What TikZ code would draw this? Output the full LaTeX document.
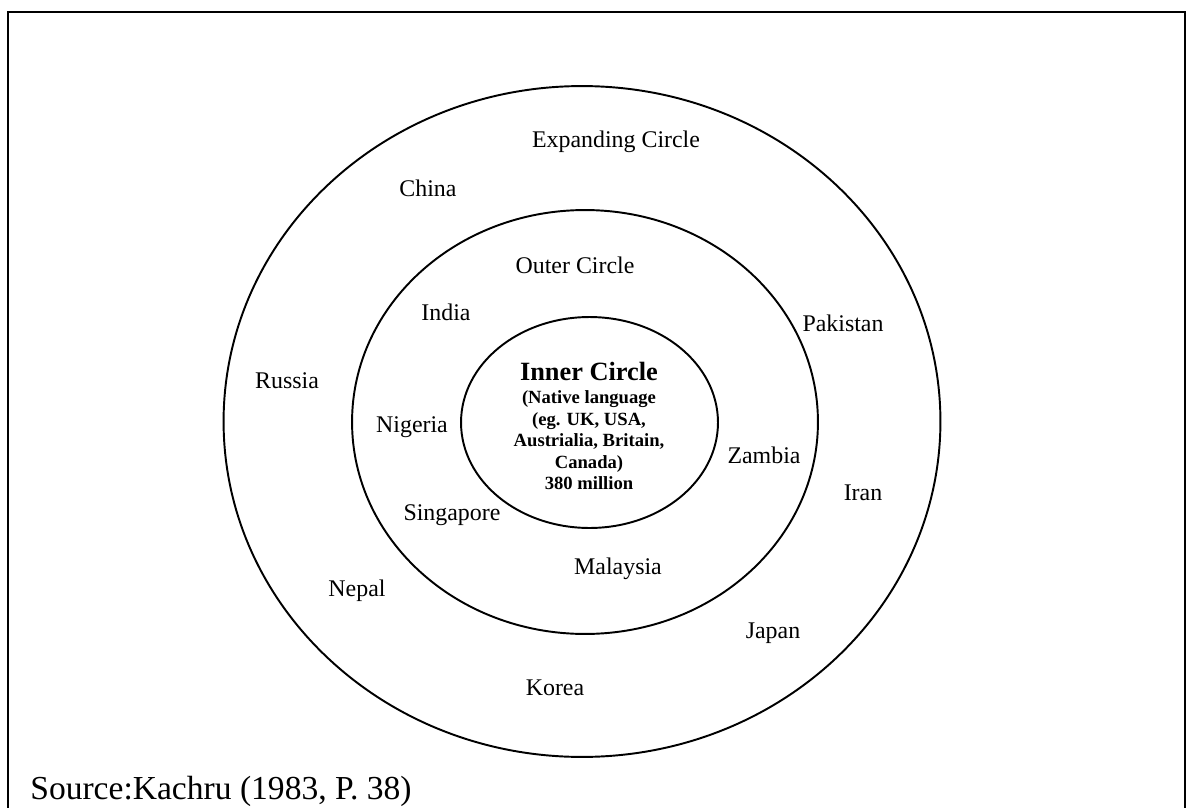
\documentclass[tikz,border=0pt]{standalone}
\usepackage{fontspec}
\setmainfont{Liberation Serif}

\begin{document}
\begin{tikzpicture}[
  x=0.02cm, y=-0.02cm,
  ring/.style={draw, line width=1.1pt},
  country/.style={inner sep=0pt, font=\fontsize{13.6}{16}\selectfont\strut},
  core/.style={inner sep=0pt, align=center, font=\bfseries\fontsize{10.6}{12.2}\selectfont},
  source/.style={inner sep=0pt, anchor=base west, font=\fontsize{19.1}{22}\selectfont}
]
\useasboundingbox (0,0) rectangle (1187,808);
\clip (0,0) rectangle (1187,808);
% frame
\draw[line width=1.1pt] (8,830) -- (8,12) -- (1185,12) -- (1185,830);
% circles
\coordinate (cexp) at (582,421.5);
\coordinate (cout) at (585,422);
\coordinate (cinn) at (589.5,422.5);
\path[ring] (cexp) ellipse [x radius=7.17cm, y radius=6.71cm];
\path[ring] (cout) ellipse [x radius=4.66cm, y radius=4.24cm];
\path[ring] (cinn) ellipse [x radius=2.57cm, y radius=2.11cm];
% inner circle text
\node[core] (inner) at (589,426) {{\fontsize{15}{15}\selectfont Inner Circle}\\[1pt]
  (Native language\\ (eg. UK, USA,\\ Austrialia, Britain,\\ Canada)\\ 380 million};
% labels
\node[country] (expanding) at (616,142) {Expanding Circle};
\node[country] (china) at (428,191) {China};
\node[country] (outer) at (575,268) {Outer Circle};
\node[country] (india) at (446,315) {India};
\node[country] (pakistan) at (843,326) {Pakistan};
\node[country] (russia) at (287,383) {Russia};
\node[country] (nigeria) at (412,427) {Nigeria};
\node[country] (zambia) at (764,458) {Zambia};
\node[country] (iran) at (863,495) {Iran};
\node[country] (singapore) at (452,515) {Singapore};
\node[country] (malaysia) at (618,569) {Malaysia};
\node[country] (nepal) at (357,591) {Nepal};
\node[country] (japan) at (773,633) {Japan};
\node[country] (korea) at (555,690) {Korea};
\node[source] (src) at (30,799) {Source:Kachru (1983, P. 38)};
\end{tikzpicture}
\end{document}
